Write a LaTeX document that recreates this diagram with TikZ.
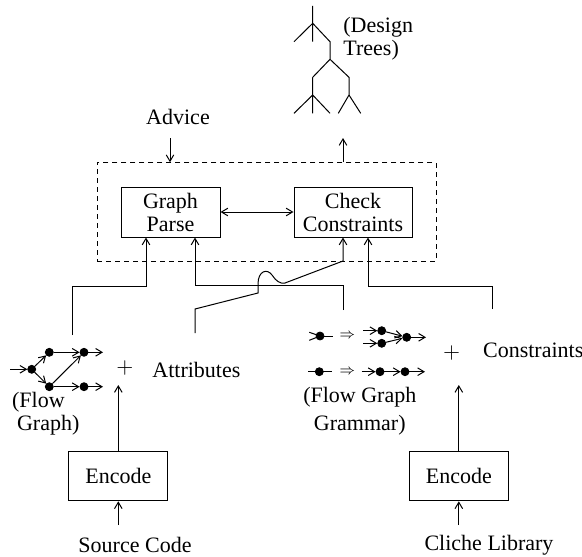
\documentclass[tikz,border=0pt]{standalone}
\usepackage{fontspec}
\setmainfont{Liberation Serif}
\usetikzlibrary{calc, positioning, arrows.meta}

\tikzset{
	box/.style={draw, line width=0.5pt, inner sep=0pt, minimum height=25pt, align=center},
	flow/.style={line width=0.5pt, -{Straight Barb[length=3.2pt,width=3.8pt]}},
	plain/.style={line width=0.5pt},
	dot/.style={circle, fill=black, draw=black, inner sep=0pt, minimum width=4pt},
	lbl/.style={inner sep=0pt, align=left},
	imp/.style={inner sep=0pt, font=\fontsize{7.5}{7.5}\selectfont}
}

\begin{document}
\begin{tikzpicture}[x=0.5pt, y=-0.5pt, font=\fontsize{11}{11.5}\selectfont]
	\useasboundingbox (0,0) rectangle (582,556);

	% design trees
	\draw [plain] (312.7,6) -- (312.7,41.7)
		(294,41.7) -- (312.7,23.3) -- (330,41.7) -- (330,59.3)
		(312.7,77.3) -- (330,59.3) -- (349,77.3) -- (349,95)
		(312.7,77.3) -- (312.7,113.3)
		(294,113.3) -- (312.7,95) -- (330,113.3)
		(338.3,113.3) -- (349,95) -- (360.7,113.3);
	\node (trees) [lbl, anchor=west] at (343,39) {(Design\\Trees)};

	\node (advice) [inner sep=0pt] at (178,116.7) {Advice};
	\coordinate (advin) at (170,138);
	\coordinate (treeout) at (343,138);

	\node (engine) [draw, dashed, dash pattern=on 2.5pt off 2pt, line width=0.5pt, minimum width=169.5pt, minimum height=49.2pt] at (266.5,211.9) {};
	\draw [flow] (advin) -- (advin |- engine.north);
	\draw [flow] (treeout |- engine.north) -- (treeout);

	\node (parse) [box, minimum width=49.5pt] at (170.5,212) {Graph\\Parse};
	\node (check) [box, minimum width=59pt] at (353,212) {Check\\Constraints};
	\draw [plain, {Straight Barb[length=3.2pt,width=3.8pt]}-{Straight Barb[length=3.2pt,width=3.8pt]}] (parse) -- (check);

	% flow graph
	\node (f1) [dot] at (31.7,369.3) {};
	\node (f2) [dot] at (49.3,352.3) {};
	\node (f3) [dot] at (84,352.3) {};
	\node (f4) [dot] at (49.3,386.7) {};
	\node (f5) [dot] at (84,386.7) {};
	\coordinate (fin) at (10,369.3);
	\coordinate (fout1) at (103,352.3);
	\coordinate (fout2) at (103,386.7);
	\draw [flow] (fin) -- (f1);
	\draw [flow] (f1) -- (f2);
	\draw [flow] (f1) -- (f4);
	\draw [flow] (f2) -- (f3);
	\draw [flow] (f4) -- (f3);
	\draw [flow] (f4) -- (f5);
	\draw [flow] (f3) -- (fout1);
	\draw [flow] (f5) -- (fout2);
	\node (fglbl) [lbl, anchor=west] at (11.7,413.3) {(Flow\\\hspace*{2.5pt}Graph)};

	\node (plusA) [inner sep=0pt] at (125,368) {$+$};
	\node (attr) [inner sep=0pt, anchor=west] at (152,370) {Attributes};

	% grammar rules
	\node (g1) [dot] at (320,336) {};
	\draw [plain] (309.3,332.3) -- (g1.center) -- (309.3,340.3);
	\draw [plain] (g1) -- (332.7,336);
	\node (imp1) [imp] at (347.3,336) {$\Rightarrow$};
	\node (r1a) [dot] at (381.7,330.7) {};
	\node (r1b) [dot] at (381.7,343.3) {};
	\node (r1c) [dot] at (406.7,337.3) {};
	\coordinate (r1ina) at (363.3,330.7);
	\coordinate (r1inb) at (363.3,343.3);
	\coordinate (r1out) at (426,337.3);
	\draw [flow] (r1ina) -- (r1a);
	\draw [flow] (r1inb) -- (r1b);
	\draw [flow] (r1a) -- (r1c);
	\draw [flow] (r1b) -- (r1c);
	\draw [flow] (r1c) -- (r1out);

	\node (g2) [dot] at (319.3,371.7) {};
	\draw [plain] (308.3,371.7) -- (331.7,371.7);
	\node (imp2) [imp] at (347.3,371.7) {$\Rightarrow$};
	\node (r2a) [dot] at (380,371.7) {};
	\node (r2b) [dot] at (405,371.7) {};
	\coordinate (r2in) at (361.7,371.7);
	\coordinate (r2out) at (425,371.7);
	\draw [flow] (r2in) -- (r2a);
	\draw [flow] (r2a) -- (r2b);
	\draw [flow] (r2b) -- (r2out);
	\node (gramlbl) [inner sep=0pt, align=center] at (359.8,411) {(Flow Graph\\[2.5pt]Grammar)};

	\node (plusC) [inner sep=0pt] at (451.7,353.3) {$+$};
	\node (cons) [inner sep=0pt, anchor=west] at (482.7,350) {Constraints};

	% encoders
	\node (encA) [box, minimum width=49.5pt, minimum height=24.5pt] at (118.3,476.3) {Encode};
	\node (encC) [box, minimum width=49.5pt, minimum height=24.5pt] at (458.8,476.3) {Encode};
	\node (src) [inner sep=0pt] at (135,545) {Source Code};
	\node (lib) [inner sep=0pt] at (489,545) {Cliche Library};
	\coordinate (srcout) at (118.3,525);
	\coordinate (libout) at (458.8,525);
	\coordinate (attrin) at (118.3,385);
	\coordinate (consin) at (458.8,385);
	\draw [flow] (srcout) -- (encA);
	\draw [flow] (libout) -- (encC);
	\draw [flow] (encA) -- (attrin);
	\draw [flow] (encC) -- (consin);

	% feeds into the parser
	\coordinate (fgout) at (72,335);
	\coordinate (pa) at (146,286);
	\draw [flow] (fgout) |- (pa) -- (pa |- parse.south);

	\coordinate (gramout) at (343,310);
	\coordinate (pc) at (195,285);
	\draw [flow] (gramout) |- (pc) -- (pc |- parse.south);

	\coordinate (attrout) at (195,333);
	\coordinate (pb) at (343,261);
	\draw [flow] (attrout) -- (195,309) -- (258,293) -- (258,284)
		.. controls (258,271) and (267,268) .. (272,275)
		.. controls (276,281) and (280,284) .. (285,283)
		-- (pb) -- (pb |- check.south);

	\coordinate (consout) at (492,309);
	\coordinate (pd) at (368,286);
	\draw [flow] (consout) |- (pd) -- (pd |- check.south);
\end{tikzpicture}
\end{document}
